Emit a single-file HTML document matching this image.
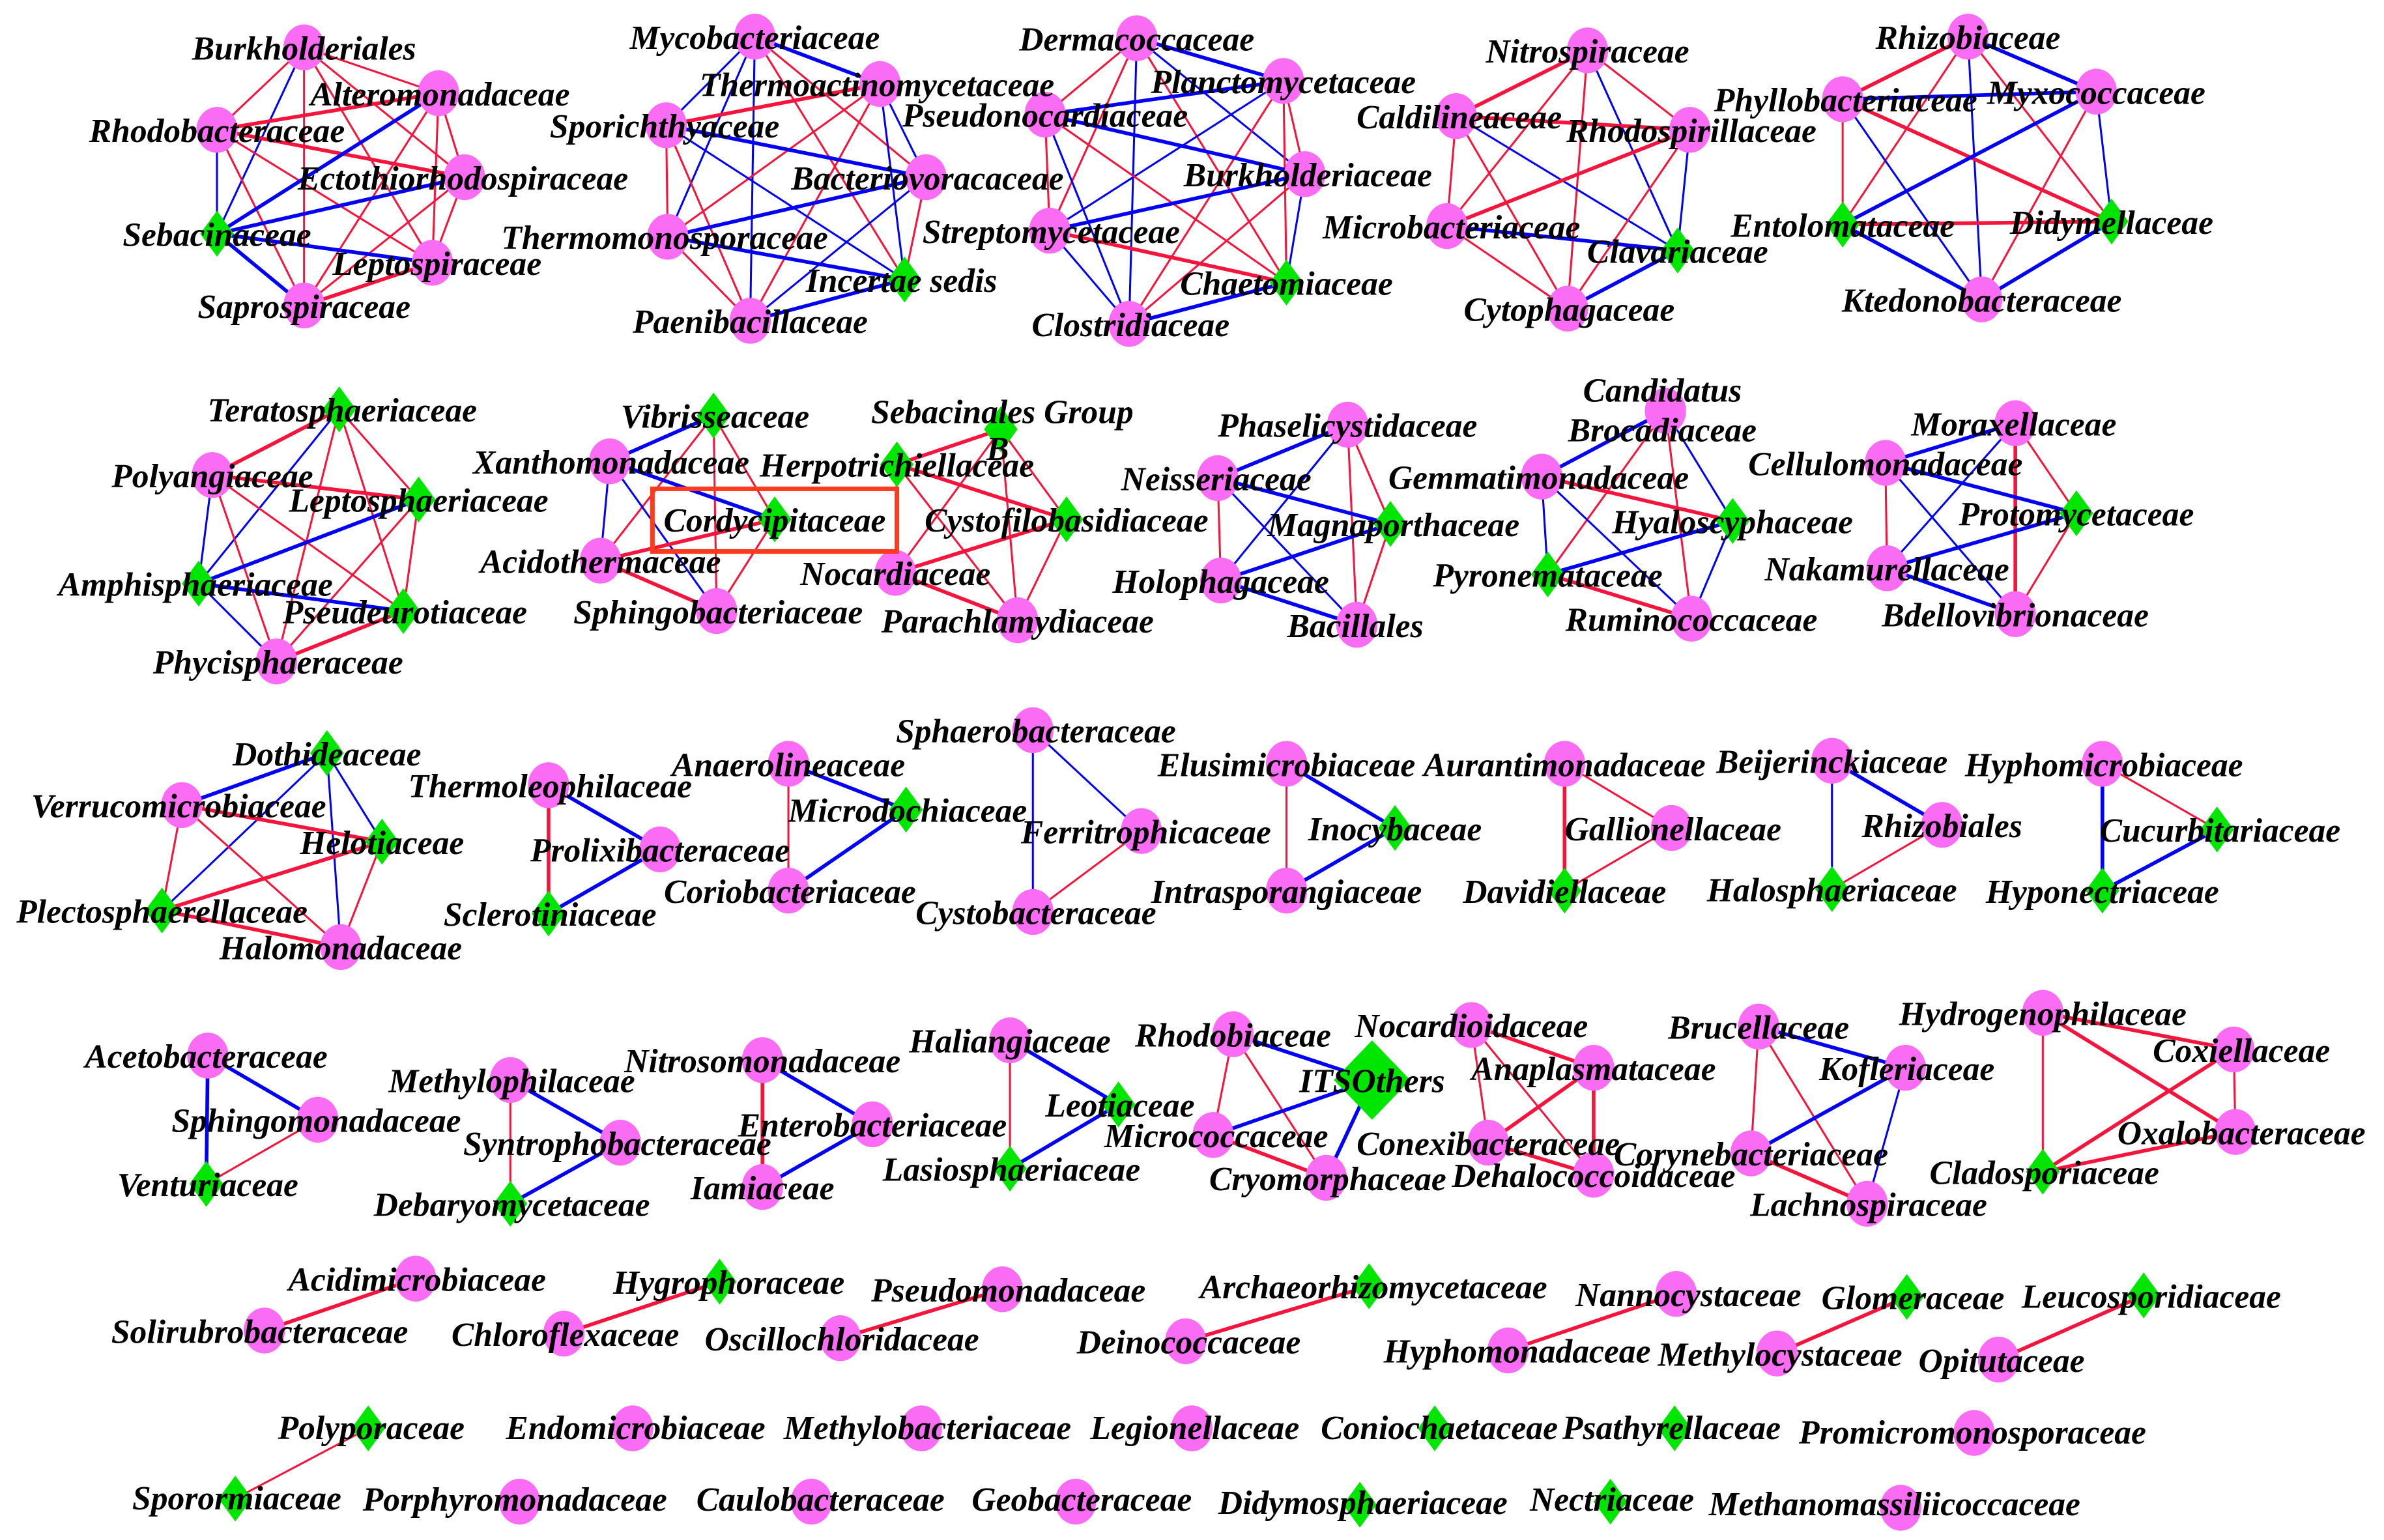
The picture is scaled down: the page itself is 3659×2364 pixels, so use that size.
<!DOCTYPE html>
<html><head><meta charset="utf-8"><style>
html,body{margin:0;padding:0;background:#fff;}
svg{display:block;}
text{font-family:"Liberation Serif",serif;font-style:italic;font-weight:bold;font-size:22px;fill:#000;text-anchor:middle;}
</style></head><body>
<svg id="s" xmlns="http://www.w3.org/2000/svg" width="3659" height="2364" viewBox="0 0 1560.3 1008.1" preserveAspectRatio="none">
<g id="edges"></g>
<g id="nodes"></g>
<rect x="427" y="320" width="160" height="41" fill="none" stroke="#ff3b1f" stroke-width="3"/>
<g id="labels">
<text x="199" y="39">Burkholderiales</text>
<text x="288" y="69">Alteromonadaceae</text>
<text x="142" y="93">Rhodobacteraceae</text>
<text x="303" y="124">Ectothiorhodospiraceae</text>
<text x="142" y="161">Sebacinaceae</text>
<text x="286" y="180">Leptospiraceae</text>
<text x="199" y="208">Saprospiraceae</text>

<text x="494" y="32">Mycobacteriaceae</text>
<text x="574" y="63">Thermoactinomycetaceae</text>
<text x="435" y="90">Sporichthyaceae</text>
<text x="607" y="124">Bacteriovoracaceae</text>
<text x="435" y="163">Thermomonosporaceae</text>
<text x="590" y="191">Incertae sedis</text>
<text x="491" y="218">Paenibacillaceae</text>

<text x="744" y="33">Dermacoccaceae</text>
<text x="840" y="61">Planctomycetaceae</text>
<text x="684" y="83">Pseudonocardiaceae</text>
<text x="856" y="122">Burkholderiaceae</text>
<text x="688" y="159">Streptomycetaceae</text>
<text x="842" y="193">Chaetomiaceae</text>
<text x="740" y="220">Clostridiaceae</text>

<text x="1039" y="41">Nitrospiraceae</text>
<text x="955" y="84">Caldilineaceae</text>
<text x="1107" y="93">Rhodospirillaceae</text>
<text x="950" y="156">Microbacteriaceae</text>
<text x="1098" y="172">Clavariaceae</text>
<text x="1027" y="210">Cytophagaceae</text>

<text x="1288" y="32">Rhizobiaceae</text>
<text x="1208" y="73">Phyllobacteriaceae</text>
<text x="1372" y="68">Myxococcaceae</text>
<text x="1206" y="155">Entolomataceae</text>
<text x="1382" y="153">Didymellaceae</text>
<text x="1297" y="204">Ktedonobacteraceae</text>

<text x="224" y="276">Teratosphaeriaceae</text>
<text x="139" y="319">Polyangiaceae</text>
<text x="274" y="335">Leptosphaeriaceae</text>
<text x="128" y="390">Amphisphaeriaceae</text>
<text x="265" y="408">Pseudeurotiaceae</text>
<text x="182" y="441">Phycisphaeraceae</text>

<text x="468" y="280">Vibrisseaceae</text>
<text x="400" y="310">Xanthomonadaceae</text>
<text x="507" y="348">Cordycipitaceae</text>
<text x="393" y="375">Acidothermaceae</text>
<text x="470" y="408">Sphingobacteriaceae</text>

<text x="656" y="277">Sebacinales Group</text>
<text x="653" y="301">B</text>
<text x="587" y="312">Herpotrichiellaceae</text>
<text x="698" y="348">Cystofilobasidiaceae</text>
<text x="586" y="383">Nocardiaceae</text>
<text x="666" y="414">Parachlamydiaceae</text>

<text x="882" y="286">Phaselicystidaceae</text>
<text x="796" y="321">Neisseriaceae</text>
<text x="912" y="351">Magnaporthaceae</text>
<text x="799" y="388">Holophagaceae</text>
<text x="887" y="417">Bacillales</text>

<text x="1088" y="263">Candidatus</text>
<text x="1088" y="289">Brocadiaceae</text>
<text x="1007" y="320">Gemmatimonadaceae</text>
<text x="1134" y="349">Hyaloscyphaceae</text>
<text x="1013" y="384">Pyronemataceae</text>
<text x="1107" y="413">Ruminococcaceae</text>

<text x="1318" y="285">Moraxellaceae</text>
<text x="1234" y="311">Cellulomonadaceae</text>
<text x="1359" y="344">Protomycetaceae</text>
<text x="1235" y="380">Nakamurellaceae</text>
<text x="1319" y="410">Bdellovibrionaceae</text>

<text x="214" y="501">Dothideaceae</text>
<text x="117" y="535">Verrucomicrobiaceae</text>
<text x="250" y="559">Helotiaceae</text>
<text x="106" y="604">Plectosphaerellaceae</text>
<text x="223" y="628">Halomonadaceae</text>

<text x="360" y="522">Thermoleophilaceae</text>
<text x="432" y="564">Prolixibacteraceae</text>
<text x="360" y="606">Sclerotiniaceae</text>

<text x="516" y="508">Anaerolineaceae</text>
<text x="594" y="538">Microdochiaceae</text>
<text x="517" y="591">Coriobacteriaceae</text>

<text x="678" y="486">Sphaerobacteraceae</text>
<text x="750" y="552">Ferritrophicaceae</text>
<text x="678" y="605">Cystobacteraceae</text>

<text x="842" y="508">Elusimicrobiaceae</text>
<text x="913" y="550">Inocybaceae</text>
<text x="842" y="591">Intrasporangiaceae</text>

<text x="1024" y="508">Aurantimonadaceae</text>
<text x="1095" y="550">Gallionellaceae</text>
<text x="1024" y="591">Davidiellaceae</text>

<text x="1199" y="506">Beijerinckiaceae</text>
<text x="1271" y="548">Rhizobiales</text>
<text x="1199" y="590">Halosphaeriaceae</text>

<text x="1377" y="508">Hyphomicrobiaceae</text>
<text x="1453" y="551">Cucurbitariaceae</text>
<text x="1376" y="591">Hyponectriaceae</text>

<text x="135" y="699">Acetobacteraceae</text>
<text x="207" y="741">Sphingomonadaceae</text>
<text x="136" y="783">Venturiaceae</text>

<text x="335" y="715">Methylophilaceae</text>
<text x="404" y="756">Syntrophobacteraceae</text>
<text x="335" y="796">Debaryomycetaceae</text>

<text x="499" y="702">Nitrosomonadaceae</text>
<text x="571" y="744">Enterobacteriaceae</text>
<text x="499" y="785">Iamiaceae</text>

<text x="661" y="689">Haliangiaceae</text>
<text x="733" y="731">Leotiaceae</text>
<text x="662" y="773">Lasiosphaeriaceae</text>

<text x="807" y="685">Rhodobiaceae</text>
<text x="898" y="715">ITSOthers</text>
<text x="796" y="751">Micrococcaceae</text>
<text x="869" y="779">Cryomorphaceae</text>

<text x="963" y="679">Nocardioidaceae</text>
<text x="1043" y="707">Anaplasmataceae</text>
<text x="974" y="756">Conexibacteraceae</text>
<text x="1043" y="777">Dehalococcoidaceae</text>

<text x="1151" y="680">Brucellaceae</text>
<text x="1248" y="707">Kofleriaceae</text>
<text x="1146" y="763">Corynebacteriaceae</text>
<text x="1223" y="796">Lachnospiraceae</text>

<text x="1337" y="671">Hydrogenophilaceae</text>
<text x="1467" y="695">Coxiellaceae</text>
<text x="1467" y="749">Oxalobacteraceae</text>
<text x="1338" y="775">Cladosporiaceae</text>

<text x="273" y="845">Acidimicrobiaceae</text>
<text x="170" y="879">Solirubrobacteraceae</text>
<text x="477" y="847">Hygrophoraceae</text>
<text x="370" y="881">Chloroflexaceae</text>
<text x="660" y="852">Pseudomonadaceae</text>
<text x="551" y="884">Oscillochloridaceae</text>
<text x="899" y="850">Archaeorhizomycetaceae</text>
<text x="778" y="886">Deinococcaceae</text>
<text x="1105" y="855">Nannocystaceae</text>
<text x="993" y="892">Hyphomonadaceae</text>
<text x="1252" y="857">Glomeraceae</text>
<text x="1165" y="894">Methylocystaceae</text>
<text x="1408" y="856">Leucosporidiaceae</text>
<text x="1310" y="898">Opitutaceae</text>

<text x="243" y="942">Polyporaceae</text>
<text x="416" y="942">Endomicrobiaceae</text>
<text x="607" y="942">Methylobacteriaceae</text>
<text x="782" y="942">Legionellaceae</text>
<text x="942" y="942">Coniochaetaceae</text>
<text x="1094" y="942">Psathyrellaceae</text>
<text x="1291" y="945">Promicromonosporaceae</text>
<text x="155" y="988">Sporormiaceae</text>
<text x="337" y="989">Porphyromonadaceae</text>
<text x="537" y="989">Caulobacteraceae</text>
<text x="708" y="989">Geobacteraceae</text>
<text x="892" y="991">Didymosphaeriaceae</text>
<text x="1055" y="989">Nectriaceae</text>
<text x="1240" y="992">Methanomassiliicoccaceae</text>
</g>
</svg>
<script>
var N={
burk:[199,31],alter:[287,61],rhodo:[142,85],ecto:[304,116],seb:[142,153,'d'],lepto:[283,172],sapro:[199,200],
myco:[494,24],thact:[576,55],spor:[436,82],bact:[606,116],thmo:[437,155],inc:[592,183,'d'],paeni:[491,210],
derm:[744,25],planc:[840,53],pseu:[684,75],burh:[854,114],strep:[687,151],chae:[842,185,'d'],clos:[739,212],
nitr:[1039,33],cald:[953,76],rhsp:[1106,85],micb:[947,148],clav:[1098,164,'d'],cyto:[1026,202],
rhzb:[1288,24],phyl:[1206,65],myxo:[1372,60],ento:[1206,147,'d'],didy:[1382,145,'d'],kted:[1297,196],
tera:[222,268,'d'],poly:[139,311],lept2:[274,327,'d'],amph:[130,382,'d'],pseud:[264,400,'d'],phyc:[181,433],
vibr:[467,272,'d'],xant:[399,302],cord:[507,340,'d'],acid:[393,367],sphb:[469,400],
sebg:[655,281,'d'],herp:[587,304,'d'],cyst:[698,340,'d'],noca:[586,375],para:[666,406],
phas:[882,278],neis:[797,313],magn:[910,343,'d'],holo:[799,380],baci:[888,409],
cand:[1090,269],gemm:[1009,312],hyal:[1134,341,'d'],pyro:[1013,376,'d'],rumi:[1107,405],
mora:[1319,277],cell:[1234,303],prot:[1359,336,'d'],naka:[1235,372],bdel:[1319,402],
doth:[214,493,'d'],verr:[119,527],helo:[250,551,'d'],plec:[106,596,'d'],halo:[223,620],
thle:[359,514],prol:[432,556],scle:[359,598,'d'],
anae:[516,500],micd:[593,530,'d'],cori:[516,583],
spha:[676,478],ferr:[747,544],cysb:[676,597],
elus:[842,500],inoc:[913,542,'d'],intr:[842,583],
aura:[1024,500],gall:[1094,542],davi:[1024,583,'d'],
beij:[1199,498],rhzl:[1271,540],hals:[1199,582,'d'],
hypm:[1376,500],cucu:[1451,543,'d'],hypn:[1376,583,'d'],
acet:[136,691],sphm:[208,733],vent:[135,775,'d'],
meth:[334,707],synt:[406,748],deba:[334,788,'d'],
nitm:[499,694],ente:[571,736],iami:[499,777],
hali:[661,681],leot:[732,723,'d'],lasi:[661,765,'d'],
rhdb:[807,677],itso:[898,707,'D'],mcoc:[794,743],cryo:[868,771],
ncdd:[963,671],anap:[1043,699],conx:[974,748],deha:[1043,769],
bruc:[1151,672],kofl:[1247,699],cory:[1146,755],lach:[1222,788],
hydr:[1337,663],coxi:[1462,687],oxal:[1463,741],clad:[1337,767,'d'],
acim:[272,837],soli:[173,871],hygr:[471,839,'d'],chlo:[369,873],psmo:[656,844],osci:[550,876],
arch:[896,842,'d'],dein:[776,878],nann:[1097,847],hpmn:[987,884],glom:[1248,849,'d'],mtcy:[1163,886],
leuc:[1403,848,'d'],opit:[1308,890],
plpr:[241,935,'d'],endo:[414,935],mtbc:[603,935],legi:[780,935],coni:[939,935,'d'],psat:[1096,935,'d'],prom:[1292,938],
sporm:[154,981,'d'],porp:[340,983],caul:[531,983],geob:[704,983],didm:[890,985,'d'],nect:[1054,983,'d'],meta:[1244,987]
};
var E="burk alter r,burk rhodo r,burk seb b,burk sapro r,burk ecto r,burk lepto r,rhodo alter R,rhodo ecto R,rhodo seb b,rhodo sapro r,rhodo lepto r,alter seb B,alter sapro r,alter lepto r,alter ecto r,ecto seb B,ecto sapro r,ecto lepto r,seb lepto B,seb sapro B,sapro lepto R,"+
"myco thact B,myco spor b,myco thmo b,myco paeni b,myco bact r,myco inc r,thact spor R,thact thmo r,thact paeni r,thact inc b,thact bact b,spor thmo r,spor bact B,spor inc b,spor paeni r,thmo bact B,thmo inc B,thmo paeni r,bact inc r,bact paeni b,inc paeni B,"+
"derm planc B,derm pseu r,derm burh b,derm strep r,derm chae r,derm clos b,planc pseu B,planc strep b,planc chae r,planc burh r,planc clos r,pseu burh B,pseu strep r,pseu chae r,pseu clos b,burh strep B,burh chae b,burh clos r,strep chae R,strep clos b,chae clos B,"+
"nitr cald R,nitr rhsp r,nitr micb r,nitr cyto r,nitr clav b,cald rhsp R,cald micb r,cald cyto r,cald clav b,rhsp micb R,rhsp cyto r,rhsp clav b,micb clav B,micb cyto r,clav cyto B,"+
"rhzb phyl R,rhzb myxo B,rhzb ento r,rhzb kted b,rhzb didy r,phyl myxo B,phyl ento r,phyl didy R,phyl kted b,myxo ento B,myxo didy b,myxo kted r,ento didy R,ento kted B,didy kted B,"+
"tera poly R,tera amph b,tera lept2 r,tera pseud r,tera phyc r,poly lept2 R,poly amph b,poly pseud r,poly phyc r,lept2 amph B,lept2 phyc r,lept2 pseud r,amph pseud B,amph phyc b,pseud phyc R,"+
"vibr xant B,vibr acid r,vibr sphb r,vibr cord r,xant cord B,xant acid b,xant sphb b,acid cord R,acid sphb R,cord sphb r,"+
"sebg herp R,sebg cyst r,sebg para r,sebg noca r,herp cyst R,herp para r,herp noca r,cyst noca R,cyst para r,noca para R,"+
"phas neis B,phas holo b,phas magn r,phas baci r,neis magn B,neis holo r,neis baci b,magn holo B,magn baci r,holo baci B,"+
"cand gemm B,cand pyro r,cand rumi r,cand hyal b,gemm hyal R,gemm pyro b,gemm rumi b,hyal pyro B,hyal rumi b,pyro rumi R,"+
"mora cell B,mora naka b,mora bdel R,mora prot r,cell prot B,cell naka r,cell bdel b,prot naka B,prot bdel r,naka bdel B,"+
"doth verr B,doth plec b,doth helo b,doth halo b,verr helo R,verr plec r,verr halo r,helo plec R,helo halo r,plec halo R,"+
"thle scle R,thle prol B,prol scle B,anae micd B,anae cori r,cori micd B,spha cysb b,spha ferr b,ferr cysb r,"+
"elus intr r,elus inoc B,inoc intr B,aura davi R,aura gall r,gall davi r,beij hals b,beij rhzl B,rhzl hals r,hypm hypn B,hypm cucu r,cucu hypn B,"+
"acet vent B,acet sphm B,sphm vent r,meth deba r,meth synt B,synt deba B,nitm iami R,nitm ente B,ente iami B,hali lasi r,hali leot B,leot lasi B,"+
"rhdb itso B,rhdb mcoc r,rhdb cryo r,mcoc itso B,itso cryo B,mcoc cryo R,"+
"ncdd anap R,ncdd conx r,ncdd deha r,anap conx R,anap deha R,conx deha R,"+
"bruc kofl B,bruc cory r,bruc lach r,kofl cory B,kofl lach b,cory lach R,"+
"hydr coxi R,hydr oxal R,hydr clad r,coxi oxal r,coxi clad R,oxal clad R,"+
"acim soli R,hygr chlo R,psmo osci R,arch dein R,nann hpmn R,glom mtcy R,leuc opit R,plpr sporm r";
var NS="http://www.w3.org/2000/svg";
var ge=document.getElementById('edges'),gn=document.getElementById('nodes');
E.split(',').forEach(function(s){
  var p=s.split(' '),a=N[p[0]],b=N[p[1]],c=p[2];
  if(!a||!b)return;
  var l=document.createElementNS(NS,'line');
  l.setAttribute('x1',a[0]);l.setAttribute('y1',a[1]);l.setAttribute('x2',b[0]);l.setAttribute('y2',b[1]);
  l.setAttribute('stroke',(c=='r'||c=='R')?'#f5143c':'#0000f5');
  l.setAttribute('stroke-width',(c=='R'||c=='B')?2.4:1.3);
  ge.appendChild(l);
});
for(var k in N){
  var n=N[k],x=n[0],y=n[1],el;
  if(n[2]=='d'||n[2]=='D'){
    var w=n[2]=='D'?25:11,h=n[2]=='D'?26:15;
    el=document.createElementNS(NS,'polygon');
    el.setAttribute('points',x+','+(y-h)+' '+(x+w)+','+y+' '+x+','+(y+h)+' '+(x-w)+','+y);
    el.setAttribute('fill','#00e600');
  }else{
    el=document.createElementNS(NS,'ellipse');
    el.setAttribute('cx',x);el.setAttribute('cy',y);el.setAttribute('rx',13.5);el.setAttribute('ry',15);
    el.setAttribute('fill','#fb6cf5');
  }
  gn.appendChild(el);
}
</script>
</body></html>
